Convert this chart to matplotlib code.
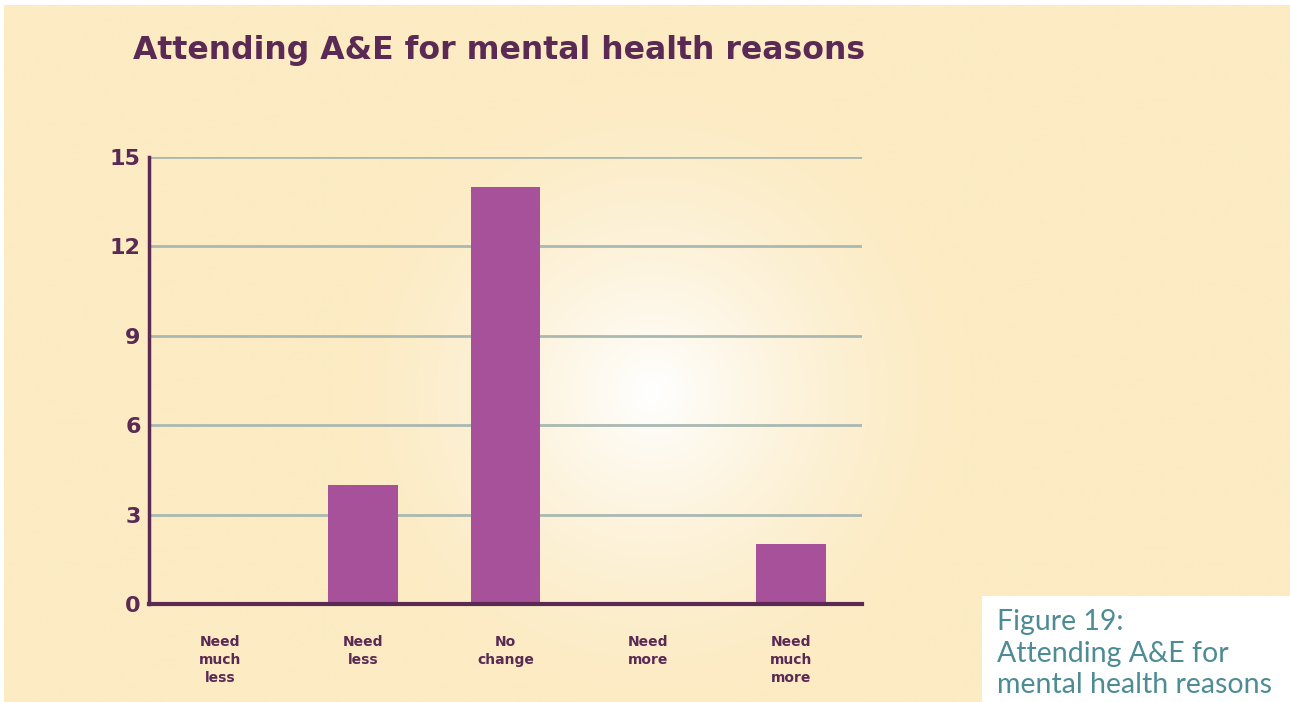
import numpy as np
import matplotlib
matplotlib.use("Agg")
import matplotlib.pyplot as plt
from matplotlib.patches import Rectangle

categories = ["Need\nmuch\nless", "Need\nless", "No\nchange", "Need\nmore", "Need\nmuch\nmore"]
counts = [0, 4, 14, 0, 2]
yticks = [0, 3, 6, 9, 12, 15]

title = "Attending A&E for mental health reasons"
caption = "Figure 19:\nAttending A&E for\nmental health reasons"

cream = "#fcebc3"
purple_dark = "#5a2a55"
bar_color = "#a8519b"
grid_color = "#a9b9b2"
teal = "#4e8c95"

W, H = 1290, 702
fig = plt.figure(figsize=(W / 100, H / 100), dpi=100)
fig.patch.set_facecolor("white")

# background panel with a soft radial glow
bg = fig.add_axes([4 / W, 0, 1 - 4 / W, 1 - 5 / H])
bg.set_axis_off()
yy, xx = np.mgrid[0:H, 0:W]
r = np.sqrt(((xx - 650) / 320.0) ** 2 + ((yy - 390) / 320.0) ** 2)
glow = np.clip(1 - r, 0, 1) ** 1.5
base = np.array(matplotlib.colors.to_rgb(cream))
img = base[None, None, :] * (1 - glow[..., None]) + np.ones(3)[None, None, :] * glow[..., None]
bg.imshow(img, aspect="auto", extent=[0, 1, 0, 1], origin="upper")
bg.set_xlim(0, 1)
bg.set_ylim(0, 1)

ax = fig.add_axes([149 / W, 98 / H, (862 - 149) / W, (604 - 157) / H])
ax.patch.set_alpha(0)
x = np.arange(len(categories))
for yv in yticks[1:]:
    ax.axhline(yv, color=grid_color, lw=2, zorder=1)
ax.bar(x, counts, width=0.49, color=bar_color, zorder=2)
ax.set_xlim(-0.5, 4.5)
ax.set_ylim(0, 15)
ax.set_yticks(yticks)
ax.set_yticklabels([str(v) for v in yticks], fontsize=16, fontweight="bold", color=purple_dark)
ax.set_xticks(x)
ax.set_xticklabels(categories, fontsize=10, fontweight="bold", color=purple_dark, linespacing=1.4)
ax.tick_params(axis="y", length=0, pad=6)
ax.tick_params(axis="x", length=0, pad=22)
for s in ["top", "right"]:
    ax.spines[s].set_visible(False)
ax.spines["left"].set_color(purple_dark)
ax.spines["left"].set_linewidth(2.5)
ax.spines["bottom"].set_color(purple_dark)
ax.spines["bottom"].set_linewidth(3)
ax.spines["bottom"].set_zorder(3)

fig.text(133 / W, 1 - 51 / H, title, fontsize=22.7, fontweight="bold", color=purple_dark,
         ha="left", va="center")

# caption box in the lower right corner
fig.patches.append(Rectangle((982 / W, 0), 1 - 982 / W, 106 / H, transform=fig.transFigure,
                             facecolor="white", edgecolor="none", zorder=5))
fig.text(997 / W, 1 - 609 / H, caption, fontsize=20.5, color=teal, family="Lato",
         ha="left", va="top", linespacing=1.27, zorder=6)

fig.savefig("out.png", dpi=100)
